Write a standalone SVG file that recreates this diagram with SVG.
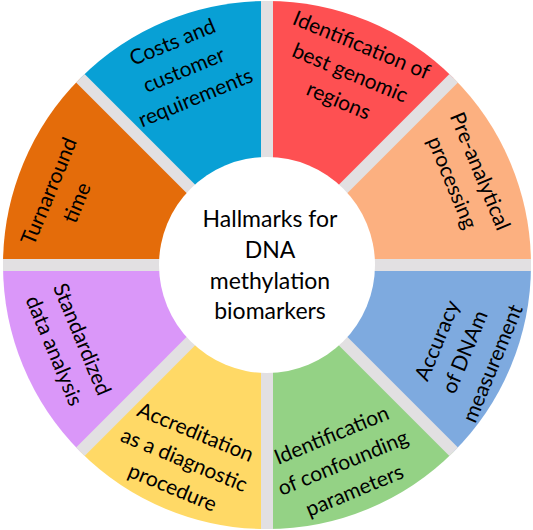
<svg xmlns="http://www.w3.org/2000/svg" width="533" height="530" viewBox="0 0 533 530">
<style>
  .seg { stroke: none; }
  .gap { stroke: #e2e0e2; stroke-width: 12; fill: none; }
  .lbl { font-family: Lato, "Liberation Sans", sans-serif; font-size: 21px; fill: #000; text-anchor: middle; }
  .ctr { font-family: Lato, "Liberation Sans", sans-serif; font-size: 23px; fill: #000; text-anchor: middle; }
</style>
<rect width="533" height="530" fill="#ffffff"/>
<g id="seg-costs">
  <path class="seg" fill="#08a0d5" d="M267,265 L80.32,78.32 A264,264 0 0 1 267,1 Z"/>
  <g transform="translate(184,70) rotate(-22.5)"><text class="lbl"><tspan x="0" y="-23">Costs and</tspan><tspan x="0" y="7">customer</tspan><tspan x="0" y="37">requirements</tspan></text></g>
</g>
<g id="seg-regions">
  <path class="seg" fill="#fe5052" d="M267,265 L267,1 A264,264 0 0 1 453.68,78.32 Z"/>
  <g transform="translate(350,73) rotate(22.5)"><text class="lbl"><tspan x="0" y="-23">Identification of</tspan><tspan x="0" y="7">best genomic</tspan><tspan x="0" y="37">regions</tspan></text></g>
</g>
<g id="seg-preanalytical">
  <path class="seg" fill="#fcb080" d="M267,265 L453.68,78.32 A264,264 0 0 1 531,265 Z"/>
  <g transform="translate(466,177) rotate(67.5)"><text class="lbl"><tspan x="0" y="-8">Pre-analytical</tspan><tspan x="0" y="22">processing</tspan></text></g>
</g>
<g id="seg-accuracy">
  <path class="seg" fill="#7eaadf" d="M267,265 L531,265 A264,264 0 0 1 453.68,451.68 Z"/>
  <g transform="translate(465,352) rotate(-67.5)"><text class="lbl"><tspan x="0" y="-23">Accuracy</tspan><tspan x="0" y="7">of DNAm</tspan><tspan x="0" y="37">measurement</tspan></text></g>
</g>
<g id="seg-confounding">
  <path class="seg" fill="#94d285" d="M267,265 L453.68,451.68 A264,264 0 0 1 267,529 Z"/>
  <g transform="translate(343,463) rotate(-22.5)"><text class="lbl"><tspan x="0" y="-23">Identification</tspan><tspan x="0" y="7">of confounding</tspan><tspan x="0" y="37">parameters</tspan></text></g>
</g>
<g id="seg-accreditation">
  <path class="seg" fill="#ffd966" d="M267,265 L267,529 A264,264 0 0 1 80.32,451.68 Z"/>
  <g transform="translate(184,460) rotate(22.5)"><text class="lbl"><tspan x="0" y="-23">Accreditation</tspan><tspan x="0" y="7">as a diagnostic</tspan><tspan x="0" y="37">procedure</tspan></text></g>
</g>
<g id="seg-standardized">
  <path class="seg" fill="#da97f9" d="M267,265 L80.32,451.68 A264,264 0 0 1 3,265 Z"/>
  <g transform="translate(68,345) rotate(67.5)"><text class="lbl"><tspan x="0" y="-8">Standardized</tspan><tspan x="0" y="22">data analysis</tspan></text></g>
</g>
<g id="seg-turnaround">
  <path class="seg" fill="#e46c0a" d="M267,265 L3,265 A264,264 0 0 1 80.32,78.32 Z"/>
  <g transform="translate(63,197) rotate(-67.5)"><text class="lbl"><tspan x="0" y="-8">Turnarround</tspan><tspan x="0" y="22">time</tspan></text></g>
</g>
<g id="gaps">
  <line class="gap" x1="267" y1="1" x2="267" y2="529"/>
  <line class="gap" x1="3" y1="265" x2="531" y2="265"/>
  <line class="gap" x1="80.32" y1="78.32" x2="453.68" y2="451.68"/>
  <line class="gap" x1="80.32" y1="451.68" x2="453.68" y2="78.32"/>
</g>
<g id="center">
  <circle cx="267" cy="265" r="108" fill="#ffffff"/>
  <text class="ctr"><tspan x="270" y="227">Hallmarks for</tspan><tspan x="270" y="258">DNA</tspan><tspan x="270" y="289">methylation</tspan><tspan x="270" y="319">biomarkers</tspan></text>
</g>
</svg>
